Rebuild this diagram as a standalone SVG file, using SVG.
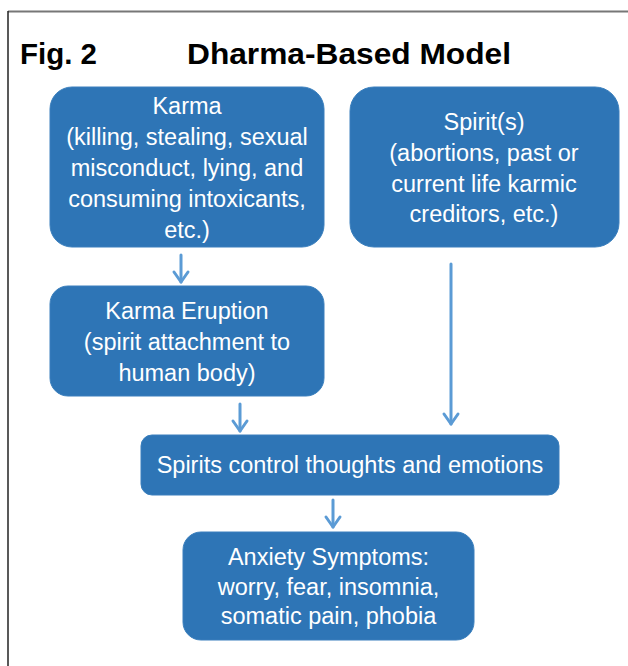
<svg xmlns="http://www.w3.org/2000/svg" width="628" height="666" viewBox="0 0 628 666">
<style>
.box{fill:#2e75b6;stroke:#3a7fbd;stroke-width:1}
.t{font-family:"Liberation Sans",Arial,sans-serif;font-size:23.5px;fill:#ffffff;text-anchor:middle}
.title{font-family:"Liberation Sans",Arial,sans-serif;font-weight:bold;font-size:30px;fill:#000}
.arr{fill:none;stroke:#5b9bd5;stroke-width:3;stroke-linecap:round;stroke-linejoin:round}
</style>
<rect width="628" height="666" fill="#fff"/>
<line x1="8" y1="11.5" x2="628" y2="11.5" stroke="#777" stroke-width="2"/>
<line x1="8" y1="11" x2="8" y2="666" stroke="#222" stroke-width="1.5"/>
<g id="title">
<text class="title" x="20" y="64" textLength="77" lengthAdjust="spacingAndGlyphs">Fig. 2</text>
<text class="title" x="187" y="64" textLength="324" lengthAdjust="spacingAndGlyphs">Dharma-Based Model</text>
</g>
<g id="connectors">
<line class="arr" x1="181" y1="255" x2="181" y2="282"/>
<polyline class="arr" points="174,272 181,282 188,272"/>
<line class="arr" x1="240" y1="404" x2="240" y2="431"/>
<polyline class="arr" points="233,421 240,431 247,421"/>
<line class="arr" x1="451" y1="264" x2="451" y2="424"/>
<polyline class="arr" points="444,414 451,424 458,414"/>
<line class="arr" x1="333" y1="500" x2="333" y2="527"/>
<polyline class="arr" points="326,517 333,527 340,517"/>
</g>
<g id="karma">
<rect class="box" x="50" y="87" width="274" height="160" rx="22"/>
<text class="t" x="187" y="114">Karma</text>
<text class="t" x="187" y="145">(killing, stealing, sexual</text>
<text class="t" x="187" y="176">misconduct, lying, and</text>
<text class="t" x="187" y="207">consuming intoxicants,</text>
<text class="t" x="187" y="238">etc.)</text>
</g>
<g id="spirits">
<rect class="box" x="350" y="87" width="269" height="160" rx="24"/>
<text class="t" x="484" y="130">Spirit(s)</text>
<text class="t" x="484" y="161">(abortions, past or</text>
<text class="t" x="484" y="192">current life karmic</text>
<text class="t" x="484" y="222">creditors, etc.)</text>
</g>
<g id="eruption">
<rect class="box" x="50" y="286" width="274" height="110" rx="18"/>
<text class="t" x="187" y="319">Karma Eruption</text>
<text class="t" x="187" y="350">(spirit attachment to</text>
<text class="t" x="187" y="381">human body)</text>
</g>
<g id="control">
<rect class="box" x="141" y="435" width="418" height="60" rx="11"/>
<text class="t" x="350" y="473">Spirits control thoughts and emotions</text>
</g>
<g id="anxiety">
<rect class="box" x="183" y="532" width="291" height="108" rx="18"/>
<text class="t" x="328.5" y="565">Anxiety Symptoms:</text>
<text class="t" x="328.5" y="595">worry, fear, insomnia,</text>
<text class="t" x="328.5" y="624">somatic pain, phobia</text>
</g>
</svg>
